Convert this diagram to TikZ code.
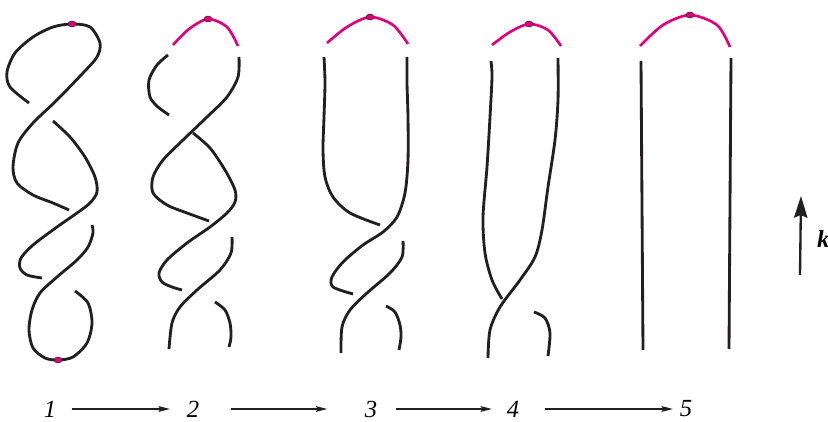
\documentclass[tikz,border=0pt]{standalone}
\usepackage{fontspec}
\setmainfont{Liberation Serif}
\usepackage{tikz}
\usetikzlibrary{arrows.meta, shapes.geometric}

\definecolor{knotpink}{RGB}{228,0,124}
\definecolor{knotblack}{RGB}{35,31,32}

\begin{document}
\begin{tikzpicture}[
    x=0.3mm, y=-0.3mm,
    strand/.style={line width=0.85mm, draw=knotblack},
    handle/.style={line width=0.8mm, draw=knotpink},
    dot/.style={ellipse, draw=knotblack, line width=0.4pt, fill=knotpink, minimum width=2.4mm, minimum height=1.8mm, inner sep=0pt},
    num/.style={inner sep=0pt, font=\fontsize{21}{23}\selectfont\itshape},
    arrow/.style={-{Stealth[length=3.4mm, width=1.7mm, inset=0.5mm]}, line width=0.4mm, knotblack},
    karrow/.style={-{Stealth[length=6.5mm, width=4mm, inset=0.8mm]}, line width=0.7mm, knotblack},
]
\useasboundingbox (0,0) rectangle (828,422);

% Panel 1
\draw[strand] plot[smooth] coordinates {(29,103) (10,87) (7,72) (15,53) (33,37) (53,27) (72,24) (90,27) (100,43) (97,57) (83,73) (57,100) (33,123) (18,143) (13,167) (17,183) (33,195) (53,203) (69,210)};
\draw[strand] plot[smooth] coordinates {(53,121) (70,137) (85,157) (95,177) (97,192) (90,203) (77,213) (57,227) (33,245) (21,258) (20,268) (27,275) (42,278)};
\draw[strand] plot[smooth] coordinates {(92,225) (93,233) (88,247) (77,260) (57,277) (40,293) (32,310) (29,330) (33,348) (45,358) (58,360) (73,357) (87,343) (92,323) (88,303) (75,291)};
\node[dot] (top1) at (72,24) {};
\node[dot] (bot1) at (58,360) {};

% Panel 2
\draw[handle] plot[smooth] coordinates {(173,45) (189,29) (208,19) (227,27) (238,46)};
\draw[strand] plot[smooth] coordinates {(168,55) (157,65) (149,80) (150,97) (158,107) (169,115)};
\draw[strand] plot[smooth] coordinates {(239,57) (238,77) (227,97) (207,117) (183,140) (163,160) (153,177) (153,193) (167,205) (187,213) (209,221)};
\draw[strand] plot[smooth] coordinates {(193,133) (210,148) (225,170) (235,190) (235,202) (227,213) (210,227) (187,243) (167,260) (159,273) (162,282) (172,287) (182,290)};
\draw[strand] plot[smooth] coordinates {(232,237) (231,253) (220,270) (197,290) (180,307) (172,323) (169,349)};
\draw[strand] plot[smooth] coordinates {(215,302) (225,310) (230,323) (231,337) (229,347)};
\node[dot] (top2) at (208,19) {};

% Panel 3
\draw[handle] plot[smooth] coordinates {(327,43) (347,27) (370,17) (393,25) (408,44)};
\draw[strand] plot[smooth] coordinates {(324,57) (325,83) (324,117) (323,150) (325,177) (333,197) (350,213) (380,225)};
\draw[strand] plot[smooth] coordinates {(407,57) (407,83) (408,117) (408,160) (405,193) (397,217) (383,232) (363,245) (343,262) (332,277) (333,287) (353,294)};
\draw[strand] plot[smooth] coordinates {(403,241) (402,257) (390,273) (367,293) (350,310) (342,327) (341,353)};
\draw[strand] plot[smooth] coordinates {(386,306) (395,312) (400,325) (401,337) (399,350)};
\node[dot] (top3) at (370,17) {};

% Panel 4
\draw[handle] plot[smooth] coordinates {(492,45) (510,32) (529,24) (548,30) (561,46)};
\draw[strand] plot[smooth] coordinates {(491,61) (492,77) (490,117) (487,167) (483,217) (485,253) (492,280) (502,299)};
\draw[strand] plot[smooth] coordinates {(558,58) (558,100) (555,140) (548,187) (542,230) (535,257) (520,280) (500,307) (490,330) (488,358)};
\draw[strand] plot[smooth] coordinates {(534,312) (545,318) (550,333) (548,356)};
\node[dot] (top4) at (529,24) {};

% Panel 5
\draw[handle] plot[smooth] coordinates {(640,46) (663,25) (690,15) (717,25) (730,47)};
\draw[strand] (641,61) -- (643,350);
\draw[strand] (731,58) -- (729,349);
\node[dot] (top5) at (690,15) {};

% Wave vector
\coordinate (kbot) at (800,275);
\coordinate (ktop) at (801,196);
\draw[karrow] (kbot) -- (ktop);
\node[num, anchor=west, font=\fontsize{21}{23}\selectfont\bfseries\itshape] (k) at (817,239) {k};

% Steps
\node[num] (n1) at (50,409) {1};
\node[num] (n2) at (193,409) {2};
\node[num] (n3) at (371,409) {3};
\node[num] (n4) at (513,409) {4};
\node[num] (n5) at (686,409) {5};

\draw[arrow, shorten <=4.6mm, shorten >=5mm] (n1) -- (n2);
\draw[arrow, shorten <=9.5mm, shorten >=11.2mm] (n2) -- (n3);
\draw[arrow, shorten <=5.5mm, shorten >=4.4mm] (n3) -- (n4);
\draw[arrow, shorten <=7.7mm, shorten >=2mm] (n4) -- (n5);

\end{tikzpicture}
\end{document}
